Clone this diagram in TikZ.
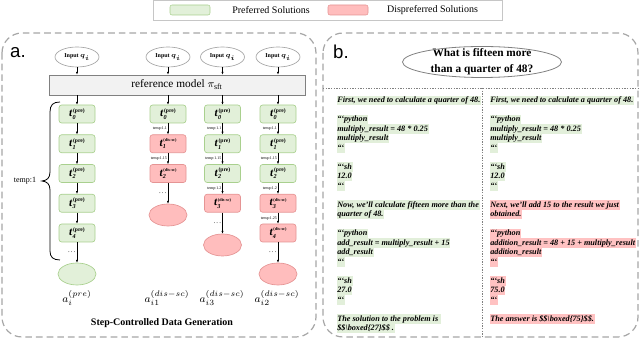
\documentclass[tikz,border=0pt]{standalone}
\usepackage{fontspec}
\usepackage{amsmath}
\setmainfont{Liberation Serif}
\newfontfamily\panelfont{Liberation Sans}
\usetikzlibrary{shapes.geometric,arrows.meta}

\definecolor{prefFill}{HTML}{E2F0D9}
\definecolor{prefLine}{HTML}{A9D08E}
\definecolor{disFill}{HTML}{FFBDBD}
\definecolor{disLine}{HTML}{E59494}
\definecolor{hlPref}{HTML}{E2EFDA}
\definecolor{hlDis}{HTML}{FFC2C2}
\definecolor{frameGray}{HTML}{A6A6A6}

\setlength{\fboxsep}{0pt}
\newcommand{\hlp}[1]{\colorbox{hlPref}{\strut\kern0.6pt#1\kern0.6pt}}
\newcommand{\hld}[1]{\colorbox{hlDis}{\strut\kern0.6pt#1\kern0.6pt}}
\newcommand{\tpre}[1]{\textbf{\textit{t}}\rlap{\raisebox{-1.9pt}{\fontsize{4.6}{4.6}\selectfont\bfseries\itshape #1}}\raisebox{3.3pt}{\fontsize{4.2}{4.2}\selectfont\bfseries\kern0.4pt(pre)}}
\newcommand{\tdis}[1]{\textbf{\textit{t}}\rlap{\raisebox{-1.9pt}{\fontsize{4.6}{4.6}\selectfont\bfseries\itshape #1}}\raisebox{3.5pt}{\fontsize{3.2}{3.2}\selectfont\bfseries\kern0.4pt(dis-sc)}}

\tikzset{every picture/.style={line width=0.75pt}}
\tikzset{
  inputnode/.style={ellipse, draw=gray!70, fill=white, line width=0.5pt, minimum width=33pt, minimum height=15pt, inner sep=0pt, font=\fontsize{4.5}{5}\selectfont\bfseries},
  prefbox/.style={rectangle, rounded corners=2pt, draw=prefLine, fill=prefFill, line width=0.5pt, minimum width=27pt, minimum height=13.5pt, inner sep=0pt, font=\fontsize{8.5}{9}\selectfont},
  disbox/.style={prefbox, draw=disLine, fill=disFill},
  prefend/.style={ellipse, draw=prefLine, fill=prefFill, line width=0.5pt, minimum width=28.5pt, minimum height=16.5pt, inner sep=0pt},
  disend/.style={prefend, draw=disLine, fill=disFill},
  flow/.style={-{Latex[length=2pt,width=1.6pt]}, line width=0.35pt},
  templabel/.style={left, inner sep=0.6pt, font=\fontsize{3}{3}\selectfont},
  dotlabel/.style={left, inner sep=1pt, font=\fontsize{5}{5}\selectfont},
  panelframe/.style={draw=frameGray, dash pattern=on 5pt off 3pt, line width=0.9pt, rounded corners=15pt},
  sollines/.style={anchor=north west, align=left, inner sep=0pt, font=\fontsize{6.15}{7.125}\selectfont\bfseries\itshape},
  swatch/.style={rectangle, rounded corners=1.5pt, line width=0.4pt, minimum width=30pt, minimum height=7.5pt, inner sep=0pt}
}

\begin{document}
\begin{tikzpicture}[
                x=0.75pt,
                y=0.75pt,
                yscale=-1,
                xscale=1
            ]
                \useasboundingbox (0,0) rectangle (640,341);

                \draw [draw=gray!45, line width=0.6pt] (153,0.5) rectangle (502,20);
                \node (swPref) at (190,10) [swatch, draw=prefLine, fill=prefFill] {};
                \node (lgPref) at (271,10) [font=\fontsize{7.5}{8}\selectfont] {Preferred Solutions};
                \node (swDis) at (348,10) [swatch, draw=disLine, fill=disFill] {};
                \node (lgDis) at (432.5,10) [font=\fontsize{7.5}{8}\selectfont] {Dispreferred Solutions};

                \draw [panelframe] (2,33) rectangle (316,337);
                \draw [panelframe] (323,33) rectangle (638,337);
                \node (labA) at (18,53) [font=\panelfont\fontsize{14}{14}\selectfont] {a.};
                \node (labB) at (341,52) [font=\panelfont\fontsize{14}{14}\selectfont] {b.};

                \node (inA) at (77,57) [inputnode] {Input $\boldsymbol{q_i}$};
                \node (inB) at (168,57) [inputnode] {Input $\boldsymbol{q_i}$};
                \node (inC) at (222.5,57) [inputnode] {Input $\boldsymbol{q_i}$};
                \node (inD) at (278,57) [inputnode] {Input $\boldsymbol{q_i}$};
                \node (ref) at (177,85) [rectangle, draw=gray, fill=gray!10, line width=0.6pt, minimum width=192pt, minimum height=15pt, inner sep=0pt, font=\fontsize{8.5}{9}\selectfont] {reference model $\pi_{\text{sft}}$};

                \node (a0) at (77,114) [prefbox] {\tpre{0}};
                \node (a1) at (77,143.75) [prefbox] {\tpre{1}};
                \node (a2) at (77,173.5) [prefbox] {\tpre{2}};
                \node (a3) at (77,203.25) [prefbox] {\tpre{3}};
                \node (a4) at (77,233) [prefbox] {\tpre{4}};
                \node (aEnd) at (77,274) [prefend] {};

                \node (b0) at (168,114) [prefbox] {\tpre{0}};
                \node (b1) at (168,143.75) [disbox] {\tdis{1}};
                \node (b2) at (168,173.5) [disbox] {\tdis{2}};
                \node (bEnd) at (168,215) [disend] {};

                \node (c0) at (222.5,114) [prefbox] {\tpre{0}};
                \node (c1) at (222.5,143.75) [prefbox] {\tpre{1}};
                \node (c2) at (222.5,173.5) [prefbox] {\tpre{2}};
                \node (c3) at (222.5,203.25) [disbox] {\tdis{3}};
                \node (cEnd) at (222.5,245) [disend] {};

                \node (d0) at (278,114) [prefbox] {\tpre{0}};
                \node (d1) at (278,143.75) [prefbox] {\tpre{1}};
                \node (d2) at (278,173.5) [prefbox] {\tpre{2}};
                \node (d3) at (278,203.25) [disbox] {\tdis{3}};
                \node (d4) at (278,233) [disbox] {\tdis{4}};
                \node (dEnd) at (278,274) [disend] {};

                \foreach \col in {A,B,C,D} {
                    \draw [flow] (in\col) -- (in\col |- ref.north);
                }
                \foreach \col in {a,b,c,d} {
                    \draw [flow] (\col0 |- ref.south) -- (\col0);
                }

                \draw [flow] (a0) -- (a1);
                \draw [flow] (a1) -- (a2);
                \draw [flow] (a2) -- (a3);
                \draw [flow] (a3) -- (a4);
                \draw [flow] (a4) -- node [dotlabel] {.\,.\,.} (aEnd);

                \draw [flow] (b0) -- node [templabel] {temp:1.1} (b1);
                \draw [flow] (b1) -- node [templabel] {temp:1.15} (b2);
                \draw [flow] (b2) -- node [dotlabel] {.\,.\,.} (bEnd);

                \draw [flow] (c0) -- node [templabel] {temp:1.1} (c1);
                \draw [flow] (c1) -- node [templabel] {temp:1.15} (c2);
                \draw [flow] (c2) -- node [templabel] {temp:1.2} (c3);
                \draw [flow] (c3) -- node [dotlabel] {.\,.\,.} (cEnd);

                \draw [flow] (d0) -- node [templabel] {temp:1.1} (d1);
                \draw [flow] (d1) -- node [templabel] {temp:1.15} (d2);
                \draw [flow] (d2) -- node [templabel] {temp:1.2} (d3);
                \draw [flow] (d3) -- node [templabel] {temp:1.25} (d4);
                \draw [flow] (d4) -- node [dotlabel] {.\,.\,.} (dEnd);

                \draw [line width=0.6pt] (60,102) .. controls (53,102) and (50,105) .. (50,112) -- (50,172) .. controls (50,178) and (47,180.5) .. (42,181) .. controls (47,181.5) and (50,184) .. (50,190) -- (50,251) .. controls (50,257) and (53,260) .. (60,260);
                \node (tempAll) at (25,181) [font=\fontsize{6}{6}\selectfont] {temp:1};

                \node (ansA) at (77,298) [font=\fontsize{8.5}{9}\selectfont] {$a_i^{(pre)}$};
                \node (ansB) at (167,298) [font=\fontsize{8.5}{9}\selectfont] {$a_{i1}^{(dis-sc)}$};
                \node (ansC) at (222,298) [font=\fontsize{8.5}{9}\selectfont] {$a_{i3}^{(dis-sc)}$};
                \node (ansD) at (277,298) [font=\fontsize{8.5}{9}\selectfont] {$a_{i2}^{(dis-sc)}$};
                \node (genTitle) at (162,323) [font=\fontsize{7.5}{8}\selectfont\bfseries] {Step-Controlled Data Generation};

                \node (question) at (482,62) [align=center, font=\fontsize{8.5}{12}\selectfont\bfseries] {What is fifteen more\\than a quarter of 48?};
                \draw [draw=gray, line width=0.6pt] (question) ellipse [x radius=79.5, y radius=15.5];

                \draw [draw=gray, line width=0.5pt, dash pattern=on 1pt off 1pt] (323,88) -- (638,88);
                \draw [draw=gray, line width=0.5pt, dash pattern=on 1pt off 1pt] (482,88) -- (482,337);

                \node (solPref) at (336,95.4) [sollines] {\hlp{First, we need to calculate a quarter of 48.}\\
                    \strut\\
                    \hlp{```python}\\
                    \hlp{multiply\_result = 48 * 0.25}\\
                    \hlp{multiply\_result}\\
                    \hlp{```}\\
                    \strut\\
                    \hlp{```sh}\\
                    \hlp{12.0}\\
                    \hlp{```}\\
                    \strut\\
                    \hlp{Now, we'll calculate fifteen more than the}\\
                    \hlp{quarter of 48.}\\
                    \strut\\
                    \hlp{```python}\\
                    \hlp{add\_result = multiply\_result + 15}\\
                    \hlp{add\_result}\\
                    \hlp{```}\\
                    \strut\\
                    \hlp{```sh}\\
                    \hlp{27.0}\\
                    \hlp{```}\\
                    \strut\\
                    \hlp{The solution to the problem is }\\
                    \hlp{\$\$\textbackslash boxed\{27\}\$\$ .}};

                \node (solDis) at (489,95.4) [sollines] {\hlp{First, we need to calculate a quarter of 48.}\\
                    \strut\\
                    \hlp{```python}\\
                    \hlp{multiply\_result = 48 * 0.25}\\
                    \hlp{multiply\_result}\\
                    \hlp{```}\\
                    \strut\\
                    \hlp{```sh}\\
                    \hlp{12.0}\\
                    \hlp{```}\\
                    \strut\\
                    \hld{Next, we'll add 15 to the result we just}\\
                    \hld{obtained.}\\
                    \strut\\
                    \hld{```python}\\
                    \hld{addition\_result = 48 + 15 + multiply\_result}\\
                    \hld{addition\_result}\\
                    \hld{```}\\
                    \strut\\
                    \hld{```sh}\\
                    \hld{75.0}\\
                    \hld{```}\\
                    \strut\\
                    \hld{The answer is \$\$\textbackslash boxed\{75\}\$\$.}};
            \end{tikzpicture}
\end{document}
